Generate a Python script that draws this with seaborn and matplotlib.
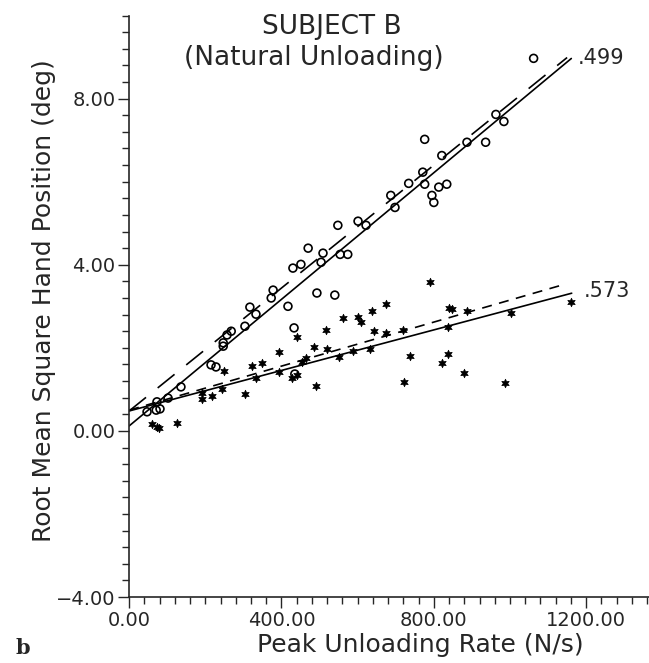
import numpy as np
import pandas as pd
import matplotlib
matplotlib.use('Agg')
import matplotlib.pyplot as plt
from matplotlib.ticker import MultipleLocator, FuncFormatter
import seaborn as sns

# open circles
circle_rate = [47, 71, 81, 73, 102, 136, 215, 228, 247, 247, 257, 268, 304, 317, 333,
               373, 378, 417, 433, 435, 430, 451, 470, 493, 504, 509, 540, 548, 554,
               574, 601, 622, 687, 698, 734, 771, 776, 776, 795, 800, 813, 834, 821,
               887, 936, 963, 984, 1062]
circle_rms = [0.46, 0.50, 0.53, 0.70, 0.79, 1.06, 1.59, 1.54, 2.04, 2.12, 2.31, 2.40, 2.52,
              2.98, 2.81, 3.20, 3.39, 3.00, 2.48, 1.37, 3.92, 4.01, 4.40, 3.32, 4.06, 4.28,
              3.27, 4.95, 4.25, 4.25, 5.05, 4.95, 5.67, 5.38, 5.96, 6.23, 5.94, 7.02, 5.67,
              5.50, 5.87, 5.94, 6.63, 6.95, 6.95, 7.62, 7.45, 8.97]

# stars
star_rate = [60, 73, 79, 126, 192, 192, 218, 244, 249, 304, 323, 333, 349, 394, 394,
             428, 441, 441, 454, 464, 485, 491, 517, 519, 551, 561, 588, 601, 609, 632,
             637, 643, 674, 674, 719, 721, 737, 790, 821, 837, 837, 839, 847, 879, 887,
             986, 1002, 1159]
star_rms = [0.17, 0.10, 0.07, 0.19, 0.77, 0.91, 0.84, 1.01, 1.44, 0.89, 1.56, 1.27, 1.63,
            1.90, 1.42, 1.27, 1.35, 2.26, 1.66, 1.75, 2.02, 1.08, 2.43, 1.97, 1.78, 2.72,
            1.92, 2.74, 2.62, 1.97, 2.88, 2.40, 3.05, 2.35, 2.43, 1.18, 1.80, 3.58, 1.63,
            1.85, 2.50, 2.96, 2.93, 1.39, 2.88, 1.15, 2.83, 3.10]

# fitted lines: intercept, slope, last x
circle_solid = [0.12, 0.00762, 1161]
circle_dashed = [0.48, 0.00740, 1150]
star_solid = [0.48, 0.00244, 1162]
star_dashed = [0.50, 0.00265, 1144]
r_labels = ['.499', '.573']

sns.set_style('ticks')
plt.rcParams['font.family'] = ['DejaVu Sans']

fig = plt.figure(figsize=(6.49, 6.63), dpi=100)
ax = fig.add_axes([0.199, 0.0995, 0.801, 0.877])

df_c = pd.DataFrame({'rate': circle_rate, 'rms': circle_rms})
df_s = pd.DataFrame({'rate': star_rate, 'rms': star_rms})

sns.scatterplot(data=df_c, x='rate', y='rms', ax=ax, marker='o', s=32,
                facecolor='none', edgecolor='black', linewidth=1.2, zorder=3)
sns.scatterplot(data=df_s, x='rate', y='rms', ax=ax, marker=(6, 1, 0), s=38,
                color='black', edgecolor='black', linewidth=0.5, zorder=3)

def fit_line(p, **kw):
    xs = np.array([0, p[2]])
    ax.plot(xs, p[0] + p[1] * xs, color='black', **kw)

fit_line(circle_solid, lw=1.2)
fit_line(circle_dashed, lw=1.2, dashes=(13, 9))
fit_line(star_solid, lw=1.2)
fit_line(star_dashed, lw=1.2, dashes=(6, 4.5))

ax.text(1178, circle_solid[0] + circle_solid[1] * 1161, r_labels[0],
        fontsize=15, va='center', ha='left')
ax.text(1193, star_solid[0] + star_solid[1] * 1162 + 0.05, r_labels[1],
        fontsize=15, va='center', ha='left')

fig.text(332 / 649, 1 - 27 / 663, 'SUBJECT B', fontsize=19, ha='center', va='center')
fig.text(314 / 649, 1 - 58 / 663, '(Natural Unloading)', fontsize=19,
         ha='center', va='center')

ax.set_xlim(0, 1365)
ax.set_ylim(-4, 10)
ax.xaxis.set_major_locator(MultipleLocator(400))
ax.xaxis.set_minor_locator(MultipleLocator(40))
ax.yaxis.set_major_locator(MultipleLocator(4))
ax.yaxis.set_minor_locator(MultipleLocator(0.4))
fmt = FuncFormatter(lambda v, pos: f'{v:.2f}'.replace('-', '\u2212'))
ax.xaxis.set_major_formatter(fmt)
ax.yaxis.set_major_formatter(fmt)
ax.tick_params(which='major', direction='out', length=8, width=1, labelsize=14, pad=2)
ax.tick_params(which='minor', direction='out', length=5, width=1)

ax.set_xlabel('Peak Unloading Rate (N/s)', fontsize=18, va='center')
ax.xaxis.set_label_coords(0.56, -0.083)
ax.set_ylabel('Root Mean Square Hand Position (deg)', fontsize=18, va='center')
ax.yaxis.set_label_coords(-0.163, 0.51)
sns.despine(ax=ax)
for sp in ['left', 'bottom']:
    ax.spines[sp].set_linewidth(1.2)

fig.text(15 / 649, 1 - 648 / 663, 'b', fontsize=15, fontweight='bold',
         family='DejaVu Serif', ha='left', va='center')

fig.savefig('out.png', dpi=100)
